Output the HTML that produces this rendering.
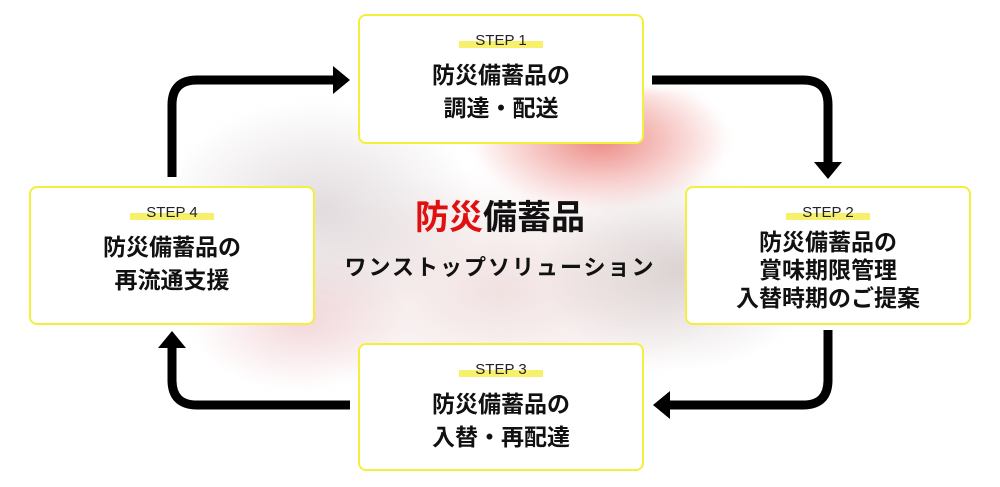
<!DOCTYPE html>
<html><head><meta charset="utf-8"><style>
html,body{margin:0;padding:0;background:#fff;}
body{width:1000px;height:487px;position:relative;overflow:hidden;font-family:"Liberation Sans","Noto Sans CJK JP",sans-serif;}
.bg{position:absolute;left:180px;top:90px;width:640px;height:320px;
background:
radial-gradient(ellipse 130px 70px at 420px 50px, rgba(225,60,50,0.6), rgba(225,60,50,0) 100%),
radial-gradient(ellipse 140px 100px at 500px 180px, rgba(170,150,150,0.4), rgba(255,255,255,0) 100%),
radial-gradient(ellipse 160px 110px at 140px 120px, rgba(190,175,180,0.45), rgba(255,255,255,0) 100%),
radial-gradient(ellipse 220px 120px at 320px 200px, rgba(220,180,180,0.4), rgba(255,255,255,0) 100%),
radial-gradient(ellipse 110px 70px at 120px 230px, rgba(220,140,150,0.35), rgba(255,255,255,0) 100%);
filter:blur(4px);}
.box{position:absolute;background:#fff;border:2px solid #f4ef3a;border-radius:8px;box-sizing:border-box;text-align:center;}
.step{display:inline-block;font-size:15px;color:#222;padding:0 16px;line-height:15px;background:linear-gradient(transparent 55%,#f6f06a 55%);}
.t{font-weight:bold;font-size:23px;color:#111;line-height:33px;margin-top:9px;}
.center{position:absolute;left:300px;width:400px;text-align:center;font-weight:bold;color:#111;}
</style></head><body>
<div class="bg"></div>
<svg width="1000" height="487" style="position:absolute;left:0;top:0">
<g fill="none" stroke="#000" stroke-width="9">
<path d="M172 177 V105 Q172 80 197 80 H335"/>
<path d="M652 80 H803 Q828 80 828 105 V162"/>
<path d="M828 330 V380 Q828 405 803 405 H670"/>
<path d="M350 405 H197 Q172 405 172 380 V348"/>
</g>
<polygon points="333,66 350,80 333,94" fill="#000"/>
<polygon points="814,162 842,162 828,179" fill="#000"/>
<polygon points="670,391 670,419 653,405" fill="#000"/>
<polygon points="158,348 186,348 172,331" fill="#000"/>
</svg>
<div class="box" style="left:358px;top:14px;width:286px;height:130px;padding-top:16px"><span class="step">STEP 1</span><div class="t">防災備蓄品の<br>調達・配送</div></div>
<div class="box" style="left:685px;top:186px;width:286px;height:139px;padding-top:16px"><span class="step">STEP 2</span><div class="t" style="line-height:28px;margin-top:6px">防災備蓄品の<br>賞味期限管理<br>入替時期のご提案</div></div>
<div class="box" style="left:358px;top:343px;width:286px;height:128px;padding-top:16px"><span class="step">STEP 3</span><div class="t">防災備蓄品の<br>入替・再配達</div></div>
<div class="box" style="left:29px;top:186px;width:286px;height:139px;padding-top:16px"><span class="step">STEP 4</span><div class="t">防災備蓄品の<br>再流通支援</div></div>
<div class="center" style="top:198px;font-size:34px;line-height:40px"><span style="color:#e01010">防災</span>備蓄品</div>
<div class="center" style="top:255px;font-size:22px;line-height:26px;letter-spacing:2px">ワンストップソリューション</div>
</body></html>
